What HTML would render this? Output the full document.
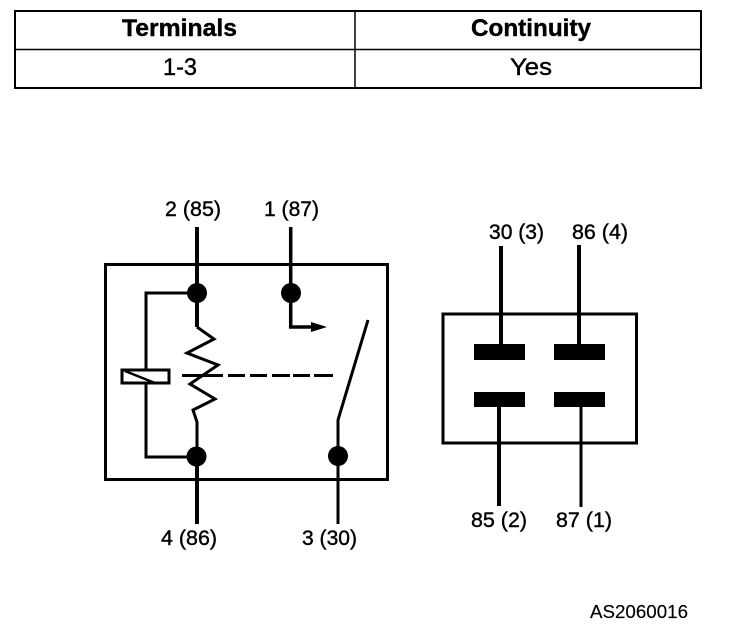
<!DOCTYPE html>
<html>
<head>
<meta charset="utf-8">
<style>
html,body{margin:0;padding:0;background:#fff;width:736px;height:642px;overflow:hidden}
svg{display:block}
text{font-family:"Liberation Sans",Arial,sans-serif;fill:#000;font-size:21px;stroke:#000;stroke-width:.4px}
.b{font-weight:bold;font-size:24px;stroke-width:.4px}
.t{font-size:24px}
</style>
</head>
<body>
<svg width="736" height="642" viewBox="0 0 736 642" xmlns="http://www.w3.org/2000/svg">
<g fill="none" stroke="#000" stroke-width="2">
<rect x="15" y="11" width="686" height="77"/>
<path d="M355 11V88M15 49.500H701" stroke-width="1.500"/>
</g>
<text class="b" x="122" y="36" textLength="115" lengthAdjust="spacingAndGlyphs">Terminals</text>
<text class="b" x="471" y="36" textLength="120" lengthAdjust="spacingAndGlyphs">Continuity</text>
<text class="t" x="163" y="75" textLength="34" lengthAdjust="spacingAndGlyphs">1-3</text>
<text class="t" x="510" y="75" textLength="42" lengthAdjust="spacingAndGlyphs">Yes</text>

<g fill="none" stroke="#000" stroke-width="3">
<rect x="105.500" y="264.500" width="282" height="215"/>
<path d="M197 227V327" stroke-width="4"/>
<path d="M290.700 227V327H312" stroke-width="3.500"/>
<path d="M197 293H146V370M146 383V457H197" stroke-width="3"/>
<path d="M197 327L214 339L187 353L218 365L190 384L215 399L193 410L197 422V524" stroke-width="3"/>
<rect x="122" y="370" width="47" height="13" stroke-width="3"/>
<path d="M125 371L155 383" stroke-width="2.500"/>
<path d="M182 375.500H223M228 375.500H245M250 375.500H267M272 375.500H290M293 375.500H310M314 375.500H333" stroke-width="3"/>
<path d="M368 320L338 420V524" stroke-width="3"/>
<path d="M197 457V524" stroke-width="4"/>
<rect x="443" y="314" width="193.500" height="129" stroke-width="3"/>
<path d="M501 246V344M579 245V344M499 407V506" stroke-width="4"/>
<path d="M581 407V507" stroke-width="3"/>
</g>
<path d="M311 322L327 327L311 332Z" fill="#000"/>
<circle cx="197" cy="293" r="10" fill="#000"/>
<circle cx="291" cy="293" r="10" fill="#000"/>
<circle cx="196.500" cy="456.500" r="10" fill="#000"/>
<circle cx="338" cy="456" r="10" fill="#000"/>
<rect x="474" y="344" width="51" height="16" fill="#000"/>
<rect x="554" y="344" width="51" height="16" fill="#000"/>
<rect x="474" y="392" width="51" height="15" fill="#000"/>
<rect x="554" y="392" width="51" height="15" fill="#000"/>

<text x="165" y="216" textLength="56" lengthAdjust="spacingAndGlyphs">2 (85)</text>
<text x="264" y="216" textLength="55" lengthAdjust="spacingAndGlyphs">1 (87)</text>
<text x="489" y="239" textLength="55" lengthAdjust="spacingAndGlyphs">30 (3)</text>
<text x="572" y="239" textLength="56" lengthAdjust="spacingAndGlyphs">86 (4)</text>
<text x="471" y="527" textLength="56" lengthAdjust="spacingAndGlyphs">85 (2)</text>
<text x="556" y="527" textLength="56" lengthAdjust="spacingAndGlyphs">87 (1)</text>
<text x="161" y="545" textLength="56" lengthAdjust="spacingAndGlyphs">4 (86)</text>
<text x="302" y="545" textLength="55" lengthAdjust="spacingAndGlyphs">3 (30)</text>
<text x="590" y="618" style="font-size:18px;stroke-width:.15px" textLength="98" lengthAdjust="spacingAndGlyphs">AS2060016</text>
</svg>
</body>
</html>
